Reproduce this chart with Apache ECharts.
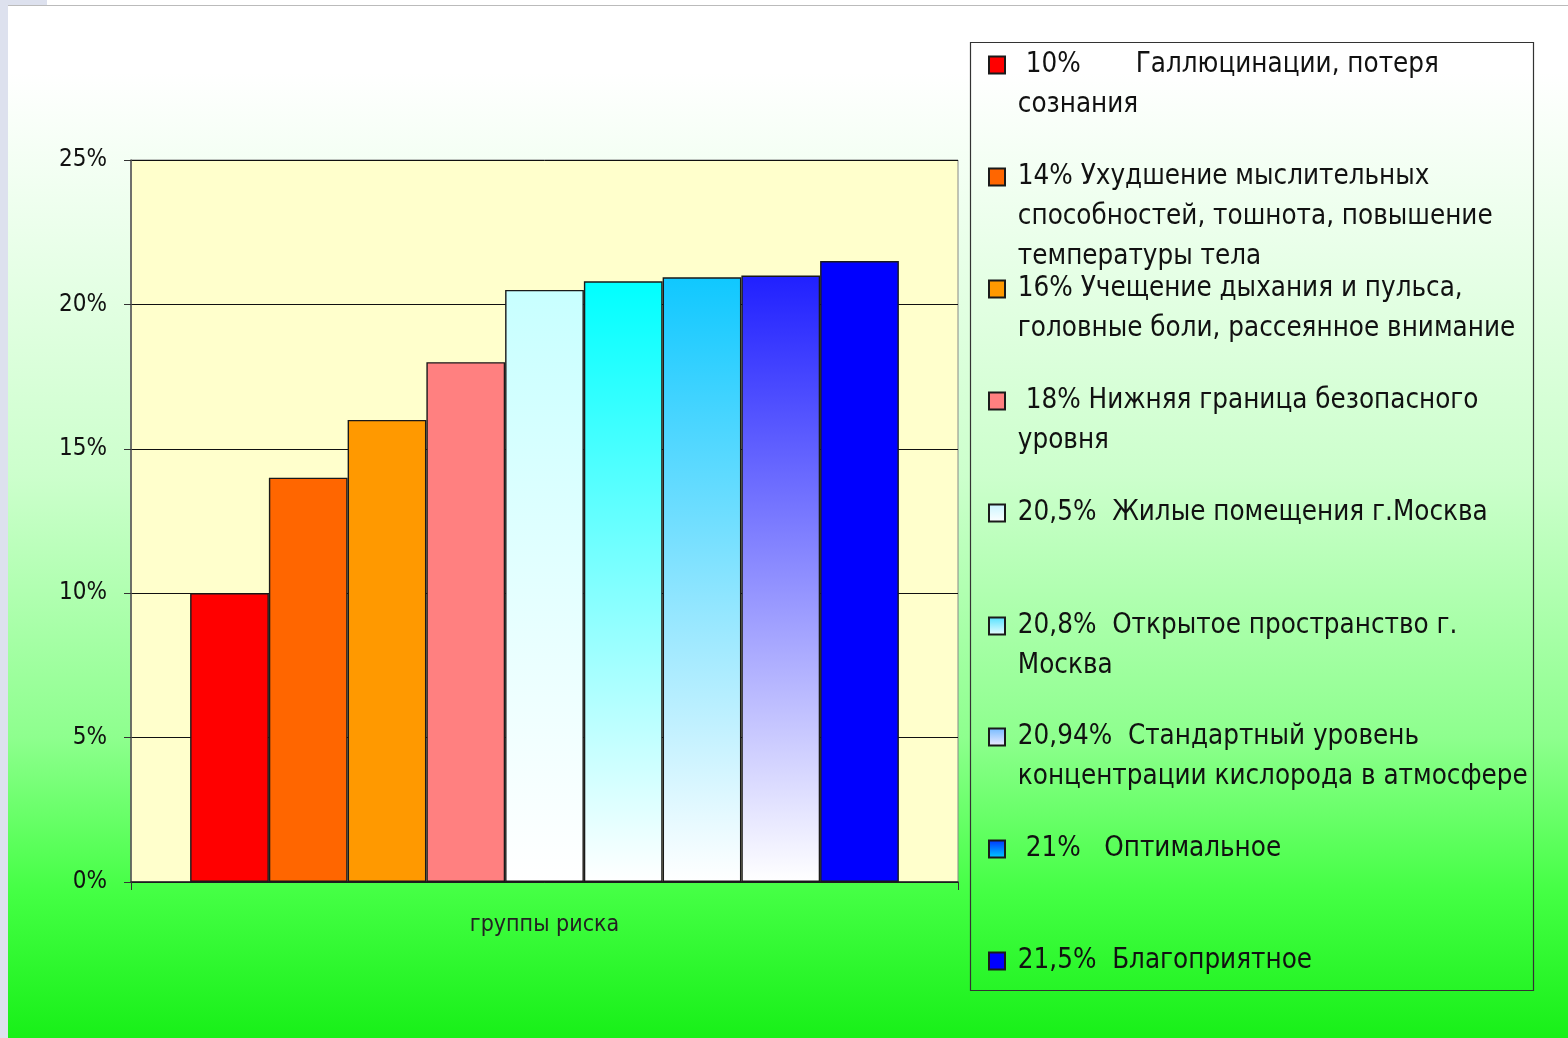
<!DOCTYPE html>
<html>
<head>
<meta charset="utf-8">
<script src="https://cdn.jsdelivr.net/npm/echarts@6/dist/echarts.min.js"></script>
<style>
  html, body { margin: 0; padding: 0; }
  #chart { width: 1568px; height: 1038px; }
</style>
</head>
<body>
<div id="chart"></div>
<script>
// данные
const categories = ['группы риска']
const values = [10, 14, 16, 18, 20.5, 20.8, 20.94, 21, 21.5]
const legendTexts = [
  ' 10%       Галлюцинации, потеря\nсознания',
  '14% Ухудшение мыслительных\nспособностей, тошнота, повышение\nтемпературы тела',
  '16% Учещение дыхания и пульса,\nголовные боли, рассеянное внимание',
  ' 18% Нижняя граница безопасного\nуровня',
  '20,5%  Жилые помещения г.Москва',
  '20,8%  Открытое пространство г.\nМосква',
  '20,94%  Стандартный уровень\nконцентрации кислорода в атмосфере',
  ' 21%   Оптимальное',
  '21,5%  Благоприятное'
]
const yTicks = [0, 5, 10, 15, 20, 25]

const FONT = "'Liberation Sans Narrow', 'Arial Narrow', 'DejaVu Sans Condensed', sans-serif"

// цвета столбцов: сплошные и градиенты сверху вниз
const grad = (top, bottom) => new echarts.graphic.LinearGradient(0, 0, 0, 1, [
  { offset: 0, color: top },
  { offset: 1, color: bottom || '#ffffff' }
])
const barColors = [
  '#ff0000', '#ff6600', '#ff9900', '#ff8080',
  grad('#c8ffff'), grad('#00ffff'), grad('#10c8ff'), grad('#2020ff'),
  '#0000ff'
]
// значки легенды в оригинале залиты немного иначе
const iconColors = [
  '#ff0000', '#ff6600', '#ff9900', '#ff8080',
  grad('#c8f4ff'), grad('#50e0ff', '#f0ffff'), grad('#70b8ff', '#f4eeff'), grad('#0030ff', '#00d0ff'),
  '#0000ff'
]

const chart = echarts.init(document.getElementById('chart'))

const series = values.map((v, i) => ({
  name: legendTexts[i],
  type: 'bar',
  data: [v],
  barGap: '0%',
  barCategoryGap: '14.3%',
  itemStyle: {
    color: barColors[i],
    borderColor: '#1a1a1a',
    borderWidth: 1.4
  }
}))

// каждая подпись легенды - отдельный блок; текст центрируется по значку,
// поэтому сверху добавляем пустые строки, чтобы значок стоял у первой строки
const LINE = 40
const legendCenters = [65, 177, 289, 401, 513, 626, 737, 849, 961]
const legends = legendTexts.map((t, i) => {
  const n = t.split('\n').length
  return {
    orient: 'vertical',
    left: 988,
    top: legendCenters[i] - (2 * n - 1) * LINE / 2,
    padding: 0,
    data: [{
      name: t,
      itemStyle: { color: iconColors[i], borderColor: '#1a1a1a', borderWidth: 2 }
    }],
    icon: 'rect',
    itemWidth: 16,
    itemHeight: 17,
    selectedMode: false,
    formatter: (name) => '\n'.repeat(n - 1) + name.split('\n').map((s) => ' ' + s).join('\n'),
    textStyle: {
      fontFamily: FONT,
      fontSize: 27.5,
      color: '#111',
      lineHeight: LINE
    }
  }
})

const option = {
  animation: false,
  backgroundColor: new echarts.graphic.LinearGradient(0, 0, 0, 1, [
    { offset: 0, color: '#ffffff' },
    { offset: 0.07, color: '#ffffff' },
    { offset: 0.46, color: '#ccffcc' },
    { offset: 0.71, color: '#8eff8e' },
    { offset: 0.86, color: '#44ff44' },
    { offset: 1, color: '#18f018' }
  ]),
  graphic: [
    { type: 'rect', shape: { x: 0, y: 0, width: 8, height: 1038 }, style: { fill: '#dde1ee' }, silent: true },
    { type: 'rect', shape: { x: 0, y: 0, width: 47, height: 5 }, style: { fill: '#dde1ee' }, silent: true },
    { type: 'line', shape: { x1: 8, y1: 5.5, x2: 1568, y2: 5.5 }, style: { stroke: '#bbbbbb', lineWidth: 1 }, silent: true },
    { type: 'rect', shape: { x: 970.5, y: 42.5, width: 563, height: 948 }, style: { fill: 'none', stroke: '#333', lineWidth: 1.2 }, silent: true }
  ],
  grid: {
    left: 131,
    right: 610,
    top: 160,
    bottom: 156,
    show: true,
    backgroundColor: '#ffffcc',
    borderColor: '#888',
    borderWidth: 1
  },
  legend: legends,
  xAxis: {
    type: 'category',
    data: categories,
    axisLine: { lineStyle: { color: '#222', width: 1.5 } },
    axisTick: { show: true, length: 8, lineStyle: { color: '#333' } },
    axisLabel: { fontFamily: FONT, fontSize: 23, color: '#222', margin: 32 }
  },
  yAxis: {
    type: 'value',
    min: yTicks[0],
    max: yTicks[yTicks.length - 1],
    interval: 5,
    axisLine: { show: true, lineStyle: { color: '#555', width: 1.5 } },
    axisTick: { show: true, length: 7, lineStyle: { color: '#333' } },
    axisLabel: { formatter: '{value}%', fontFamily: FONT, fontSize: 24, color: '#111', margin: 24 },
    splitLine: { lineStyle: { color: '#111', width: 1 } }
  },
  series: series
}

chart.setOption(option)
</script>
</body>
</html>
